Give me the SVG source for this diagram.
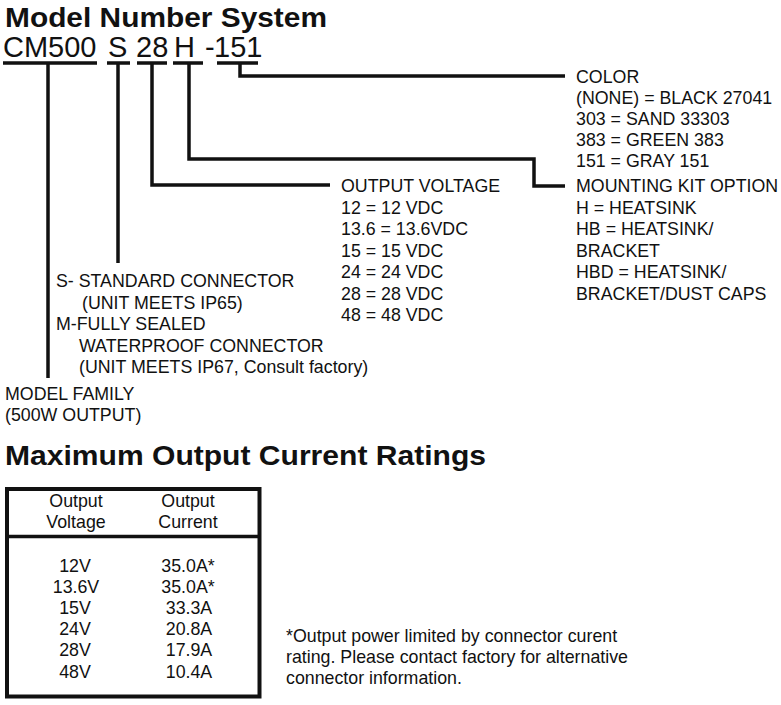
<svg xmlns="http://www.w3.org/2000/svg" width="781" height="705" viewBox="0 0 781 705">
<style>
  .t { font-family: "Liberation Sans", Arial, sans-serif; font-size: 17.8px; fill: #111; }
  .c { text-anchor: middle; }
  .h { font-family: "Liberation Sans", Arial, sans-serif; font-weight: bold; font-size: 28px; fill: #111; }
  .mn { font-family: "Liberation Sans", Arial, sans-serif; font-size: 29px; fill: #111; }
  .ln { fill: none; stroke: #111; stroke-width: 3.5; stroke-linejoin: miter; stroke-linecap: butt; }
</style>
<rect width="781" height="705" fill="#ffffff"/>

<g id="title">
  <text class="h" x="5" y="27" textLength="322" lengthAdjust="spacingAndGlyphs">Model Number System</text>
</g>

<g id="model-number">
  <text class="mn" x="3" y="57">CM500</text>
  <text class="mn" x="108" y="57">S</text>
  <text class="mn" x="136" y="57">28</text>
  <text class="mn" x="174" y="57">H</text>
  <text class="mn" x="205" y="57">-</text>
  <text class="mn" x="214" y="57">151</text>
</g>

<g id="connectors">
  <path class="ln" d="M3 63H97M107 63H130M137 63H167M173 63H203M217 63H258"/>
  <path class="ln" d="M48 63V378"/>
  <path class="ln" d="M118 63V263"/>
  <path class="ln" d="M152 63V185H330"/>
  <path class="ln" d="M189 63V159H534V186H565"/>
  <path class="ln" d="M240 63V76H565"/>
</g>

<g id="color-option">
  <text class="t" x="576" y="83">COLOR</text>
  <text class="t" x="576" y="104">(NONE) = BLACK 27041</text>
  <text class="t" x="576" y="125">303 = SAND 33303</text>
  <text class="t" x="576" y="146">383 = GREEN 383</text>
  <text class="t" x="576" y="167">151 = GRAY 151</text>
</g>

<g id="mounting-option">
  <text class="t" x="576" y="192">MOUNTING KIT OPTION</text>
  <text class="t" x="576" y="213.5">H = HEATSINK</text>
  <text class="t" x="576" y="235">HB = HEATSINK/</text>
  <text class="t" x="576" y="256.5">BRACKET</text>
  <text class="t" x="576" y="278">HBD = HEATSINK/</text>
  <text class="t" x="576" y="299.5">BRACKET/DUST CAPS</text>
</g>

<g id="voltage-option">
  <text class="t" x="341" y="192">OUTPUT VOLTAGE</text>
  <text class="t" x="341" y="214">12 = 12 VDC</text>
  <text class="t" x="341" y="235">13.6 = 13.6VDC</text>
  <text class="t" x="341" y="257">15 = 15 VDC</text>
  <text class="t" x="341" y="278">24 = 24 VDC</text>
  <text class="t" x="341" y="300">28 = 28 VDC</text>
  <text class="t" x="341" y="321">48 = 48 VDC</text>
</g>

<g id="connector-option">
  <text class="t" x="56" y="287">S- STANDARD CONNECTOR</text>
  <text class="t" x="82" y="308.5">(UNIT MEETS IP65)</text>
  <text class="t" x="56" y="330">M-FULLY SEALED</text>
  <text class="t" x="79" y="351.5">WATERPROOF CONNECTOR</text>
  <text class="t" x="79" y="373">(UNIT MEETS IP67, Consult factory)</text>
</g>

<g id="model-family">
  <text class="t" x="5" y="400">MODEL FAMILY</text>
  <text class="t" x="5" y="421">(500W OUTPUT)</text>
</g>

<g id="ratings-title">
  <text class="h" x="5" y="465" textLength="481" lengthAdjust="spacingAndGlyphs">Maximum Output Current Ratings</text>
</g>

<g id="ratings-table">
  <rect x="7" y="489" width="252.5" height="207.5" fill="none" stroke="#111" stroke-width="4"/>
  <path d="M7 536.5H259.5" stroke="#111" stroke-width="3.5"/>
  <text class="t c" x="76" y="507">Output</text>
  <text class="t c" x="76" y="528">Voltage</text>
  <text class="t c" x="188" y="507">Output</text>
  <text class="t c" x="188" y="528">Current</text>
  <text class="t c" x="75" y="572">12V</text>
  <text class="t c" x="76" y="593">13.6V</text>
  <text class="t c" x="75" y="614">15V</text>
  <text class="t c" x="75" y="635">24V</text>
  <text class="t c" x="75" y="656">28V</text>
  <text class="t c" x="75" y="678">48V</text>
  <text class="t c" x="188" y="572">35.0A*</text>
  <text class="t c" x="188" y="593">35.0A*</text>
  <text class="t c" x="189" y="614">33.3A</text>
  <text class="t c" x="189" y="635">20.8A</text>
  <text class="t c" x="189" y="656">17.9A</text>
  <text class="t c" x="189" y="678">10.4A</text>
</g>

<g id="footnote">
  <text class="t" x="286" y="642">*Output power limited by connector curent</text>
  <text class="t" x="286" y="663">rating. Please contact factory for alternative</text>
  <text class="t" x="286" y="684">connector information.</text>
</g>
</svg>
